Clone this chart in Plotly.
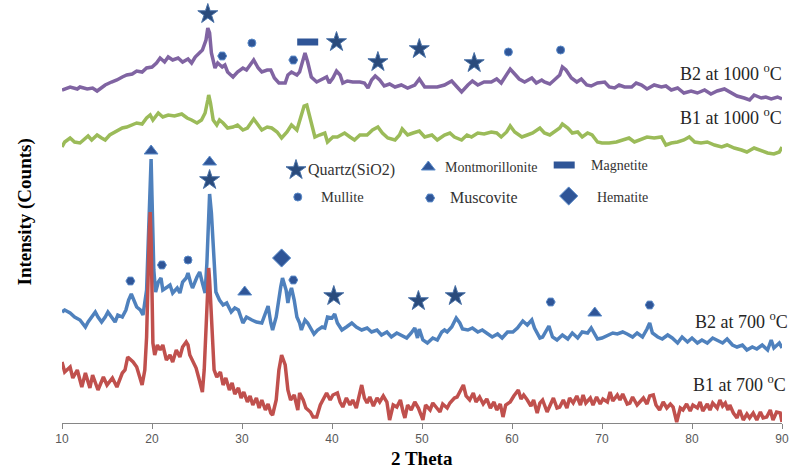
import plotly.graph_objects as go

# ---------------- data (2 Theta, intensity in stacked display units) ----------------
b2_1000_x = [10.0,10.9,11.7,12.0,12.8,13.4,13.9,14.8,15.5,16.1,16.7,17.2,17.8,18.3,18.9,19.4,20.0,20.5,20.9,21.4,
             21.8,22.3,22.9,23.4,24.0,24.4,24.8,25.3,25.6,26.0,26.2,26.4,26.6,27.0,27.3,27.8,28.1,28.4,29.0,29.5,
             30.1,30.5,31.1,31.3,31.8,32.2,32.8,33.2,33.6,34.1,34.8,35.1,35.5,36.1,36.4,36.7,37.0,37.3,37.7,38.3,
             38.9,39.4,39.7,40.1,40.5,40.9,41.2,41.7,42.3,43.1,43.6,44.0,44.4,44.8,45.3,45.8,46.4,47.0,47.7,48.4,
             49.2,49.7,50.3,51.1,51.7,52.5,53.3,53.8,54.4,55.1,55.6,56.2,56.9,57.7,58.3,58.8,59.4,59.8,60.3,60.8,
             61.4,62.2,62.7,63.3,63.6,64.2,64.7,65.3,65.6,66.0,66.6,67.2,67.7,68.3,68.8,69.5,70.3,70.8,71.4,71.9,
             72.5,73.3,73.8,74.4,75.0,75.8,76.6,77.1,77.7,78.4,79.1,79.9,80.6,81.4,82.1,82.8,83.6,84.4,85.0,85.8,
             86.4,86.9,87.7,88.2,88.8,89.5,90.0]
b2_1000_y = [342,345,343,345,343,344,341,347,350,352,355,357,358,361,360,364,365,369,374,370,
             375,372,374,370,373,369,375,379,382,392,404,399,379,364,369,365,367,360,355,360,
             364,362,370,372,364,360,362,362,354,349,349,357,360,357,360,370,379,370,355,350,
             353,355,349,354,361,357,349,351,350,350,349,344,352,356,352,346,348,345,347,344,
             347,353,345,345,345,347,351,346,340,347,351,347,350,350,353,349,357,363,358,353,
             350,354,349,352,350,348,352,357,365,362,354,350,353,347,346,349,350,345,344,347,
             345,345,349,347,343,347,345,346,342,344,339,341,339,342,338,341,343,339,336,334,
             332,337,334,335,333,335,333]

b1_1000_x = [10.0,10.3,10.9,11.4,12.0,12.6,12.9,13.3,13.9,14.4,14.8,15.3,15.9,16.7,17.2,17.8,18.3,18.9,19.4,19.8,
             20.1,20.7,21.2,21.8,22.5,23.3,23.9,24.4,25.0,25.5,25.9,26.2,26.3,26.5,26.8,27.2,27.5,27.9,28.4,29.0,
             29.5,30.1,30.6,31.3,31.8,32.2,32.8,33.3,33.9,34.4,35.0,35.5,36.1,36.6,36.9,37.2,37.7,38.1,38.6,39.2,
             39.5,40.1,40.6,41.4,42.0,42.5,43.1,43.9,44.5,45.1,45.6,46.2,47.0,47.5,47.8,48.4,49.0,49.7,50.3,51.1,
             51.7,52.5,53.1,53.6,54.4,55.0,55.5,56.2,56.9,57.7,58.3,58.8,59.4,59.8,60.3,61.1,61.7,62.3,63.1,63.6,
             64.2,64.7,65.3,65.6,66.2,66.7,67.3,67.8,68.4,68.9,69.5,70.0,70.8,71.6,72.3,73.0,73.6,74.4,75.0,75.8,
             76.6,77.1,77.7,78.4,79.1,79.7,80.3,81.0,81.7,82.5,83.3,83.9,84.7,85.5,86.1,86.9,87.7,88.4,89.1,89.7,
             90.0]
b1_1000_y = [285,290,294,290,289,294,296,292,297,294,292,297,300,304,305,307,309,308,314,317,
             312,319,315,317,316,318,314,312,309,312,319,332,337,329,312,307,312,309,304,305,
             307,302,304,313,307,302,305,304,300,294,300,307,302,317,326,327,309,295,297,299,
             290,295,295,299,295,292,297,297,302,305,299,294,292,297,303,297,299,301,295,297,
             292,297,299,295,292,297,295,299,298,300,299,295,300,306,300,295,297,299,304,299,
             297,300,304,308,304,299,300,295,299,297,290,289,289,290,292,294,290,293,295,294,
             295,287,289,290,292,295,290,289,290,287,285,287,284,282,280,284,281,279,278,280,
             285]

b2_700_x = [10.0,10.3,10.9,11.4,12.0,12.6,12.9,13.3,13.7,14.0,14.4,14.8,15.1,15.5,15.9,16.2,16.7,17.1,17.4,17.7,
            17.9,18.3,18.7,19.0,19.4,19.7,19.9,20.0,20.2,20.4,20.7,21.0,21.2,21.7,22.0,22.3,22.8,23.1,23.4,23.8,
            24.0,24.3,24.5,25.0,25.3,25.6,25.9,26.1,26.3,26.4,26.6,26.9,27.1,27.5,27.9,28.3,28.8,29.2,29.6,30.1,
            30.5,31.1,31.6,32.2,32.5,32.9,33.2,33.4,33.8,34.0,34.3,34.5,34.9,35.1,35.3,35.5,35.8,36.1,36.4,36.6,
            37.0,37.3,37.7,38.0,38.4,38.9,39.2,39.5,40.0,40.3,40.6,41.1,41.6,42.2,42.7,43.3,43.9,44.4,45.0,45.5,
            46.1,46.6,47.2,47.7,48.3,48.8,49.2,49.5,49.7,50.1,50.6,51.2,51.7,52.2,52.5,52.8,53.3,53.8,54.2,54.5,
            55.1,55.6,56.2,56.7,57.3,57.8,58.4,58.9,59.5,60.1,60.6,61.2,61.7,62.2,62.5,63.1,63.4,63.8,64.1,64.5,
            65.0,65.6,66.2,66.7,67.3,67.8,68.4,68.8,69.2,69.5,70.0,70.6,71.2,71.7,72.3,72.8,73.4,73.9,74.5,75.0,
            75.3,75.6,76.2,76.7,77.3,77.8,78.4,78.9,79.5,80.0,80.6,81.1,81.7,82.3,82.8,83.4,83.9,84.5,85.0,85.6,
            86.1,86.7,87.2,87.8,88.4,88.8,89.1,89.7,90.0]
b2_700_y = [120,122,119,115,112,105,110,115,120,115,110,115,120,115,110,117,115,122,132,138,
            134,125,122,117,142,235,273,235,162,140,150,154,142,145,147,139,144,139,150,154,
            159,149,144,155,160,149,139,169,219,238,219,162,140,132,127,129,120,124,122,109,
            115,112,110,109,117,126,109,102,115,129,145,154,142,129,139,144,132,115,109,102,
            112,109,102,98,102,105,104,115,114,118,109,102,105,109,105,102,104,100,102,97,
            100,95,99,97,94,99,104,94,103,92,89,94,92,100,102,100,105,114,109,103,
            102,104,100,102,98,95,98,94,100,100,104,111,107,112,104,94,95,102,106,95,
            92,97,93,99,94,100,99,104,97,93,94,97,99,98,100,98,95,99,95,103,
            109,99,95,93,97,94,89,95,90,94,89,92,89,94,92,89,93,87,85,87,
            82,85,83,87,82,92,84,89,84]

b1_700_x = [10.0,10.3,10.9,11.2,11.7,12.2,12.6,13.1,13.4,14.0,14.6,15.0,15.6,16.1,16.7,17.0,17.3,17.9,18.3,18.7,
            18.9,19.2,19.4,19.7,19.8,19.9,20.0,20.1,20.3,20.6,20.9,21.2,21.6,22.0,22.3,22.7,23.1,23.4,23.8,24.0,
            24.2,24.6,24.9,25.2,25.6,25.8,26.0,26.2,26.3,26.4,26.7,26.9,27.2,27.6,27.9,28.2,28.6,28.9,29.2,29.6,
            29.9,30.2,30.6,30.9,31.2,31.6,31.9,32.2,32.6,32.9,33.2,33.4,33.8,34.1,34.4,34.8,35.1,35.4,35.8,36.2,
            36.4,36.8,37.1,37.6,37.9,38.3,38.7,39.1,39.4,39.8,40.1,40.6,40.9,41.2,41.6,42.0,42.3,42.7,43.0,43.3,
            43.6,43.9,44.2,44.6,45.0,45.3,45.7,46.1,46.4,46.8,47.2,47.6,47.9,48.1,48.4,48.8,49.2,49.6,49.9,50.1,
            50.4,50.9,51.2,51.6,52.0,52.3,52.8,53.1,53.6,53.9,54.2,54.6,54.9,55.3,55.7,56.0,56.4,56.8,57.2,57.6,
            58.0,58.3,58.7,59.0,59.3,59.8,60.2,60.7,61.0,61.3,61.7,62.1,62.4,62.8,63.1,63.4,63.9,64.2,64.6,65.0,
            65.3,65.7,66.1,66.4,66.8,67.2,67.6,67.9,68.2,68.7,69.0,69.4,69.8,70.1,70.6,70.9,71.2,71.7,72.0,72.3,
            72.8,73.1,73.4,73.9,74.2,74.6,75.0,75.3,75.7,76.0,76.4,76.8,77.2,77.6,77.9,78.3,78.7,79.0,79.4,79.8,
            80.1,80.6,80.9,81.2,81.7,82.0,82.3,82.8,83.1,83.4,83.7,84.0,84.2,84.6,85.0,85.3,85.7,86.1,86.4,86.8,
            87.2,87.6,87.9,88.3,88.7,89.0,89.4,89.8,90.0]
b1_700_y = [70,60,65,54,62,45,59,44,57,42,55,47,54,45,59,62,75,70,65,54,
            47,62,95,200,220,192,132,89,77,87,82,87,72,77,70,82,75,85,90,87,
            77,70,64,54,40,62,102,152,164,152,92,62,55,60,47,54,42,49,38,44,
            34,40,30,36,27,34,24,32,22,28,19,17,32,62,77,67,42,32,37,22,
            39,32,24,20,15,15,27,34,39,32,37,39,30,25,34,27,32,24,34,47,
            34,29,35,26,34,30,36,30,12,27,25,32,20,14,27,22,30,24,17,12,
            27,22,29,24,20,28,24,29,34,35,40,47,36,32,39,30,35,28,33,24,
            30,22,28,15,27,30,36,42,33,37,32,26,32,19,29,32,20,27,34,24,
            25,32,24,34,29,36,27,37,29,34,27,35,28,33,30,40,31,37,32,38,
            28,29,35,27,30,34,28,36,37,27,22,30,24,28,25,10,24,22,28,21,
            27,24,30,21,28,22,29,24,32,26,29,22,27,19,14,22,12,18,14,19,
            12,20,14,15,22,12,20,19,10]

# phase identification marks (2 Theta, display height)
quartz_x = [26.2, 40.5, 45.1, 49.7, 55.8, 26.4, 40.2, 49.6, 53.7]
quartz_y = [418, 390, 370, 383, 369, 252, 136, 131, 136]
montmor_x = [19.9, 26.4, 30.3, 69.2]
montmor_y = [281, 270, 140, 119]
mullite_x = [31.1, 59.6, 65.4, 24.0]
mullite_y = [389, 380, 382, 172]
muscov_x = [27.8, 35.7, 17.6, 21.1, 35.7, 64.3, 75.3]
muscov_y = [376, 372, 151, 167, 152, 130, 127]
magnet_x = [37.3]
magnet_y = [390]
hemat_x = [34.4]
hemat_y = [174]

series_names = ["B2 at 1000 <sup>o</sup>C", "B1 at 1000 <sup>o</sup>C",
                "B2 at 700 <sup>o</sup>C", "B1 at 700 <sup>o</sup>C"]
phase_names = ["Quartz(SiO2)", "Montmorillonite", "Magnetite", "Mullite", "Muscovite", "Hematite"]
x_ticks = [10, 20, 30, 40, 50, 60, 70, 80, 90]

# ---------------- figure ----------------
SERIF = "Liberation Serif, Times New Roman, serif"
MK = "#2F5597"
MK_EDGE = "#5B8BC9"
Y0, Y1 = 9, 432

fig = go.Figure()
line_specs = [(b2_1000_x, b2_1000_y, "#8064A2"), (b1_1000_x, b1_1000_y, "#9BBB59"),
              (b2_700_x, b2_700_y, "#4F81BD"), (b1_700_x, b1_700_y, "#C0504D")]
for xs, ys, col in line_specs:
    fig.add_trace(go.Scatter(x=xs, y=ys, mode="lines", line=dict(color=col, width=3.5),
                             showlegend=False, hoverinfo="skip"))

def marks(xs, ys, symbol, size, color=MK, edge=MK_EDGE, lw=1):
    fig.add_trace(go.Scatter(x=xs, y=ys, mode="markers", showlegend=False, hoverinfo="skip",
                             marker=dict(symbol=symbol, size=size, color=color,
                                         line=dict(color=edge, width=lw))))

marks(quartz_x, quartz_y, "star", 15, color="#2A4B7C", edge="#4A72A8")
marks(montmor_x, montmor_y, "triangle-up", 12)
marks(mullite_x, mullite_y, "circle", 8)
marks(muscov_x, muscov_y, "hexagon2", 9)
marks(magnet_x, magnet_y, "line-ew", 15, color=MK, edge=MK, lw=7)
marks(hemat_x, hemat_y, "diamond", 14)

# in-plot key (symbols + labels)
key_sym_x = [36.0, 50.7, 65.8, 36.2, 50.9, 66.3]
key_sym_y = [262, 265, 267, 235, 234, 236]
key_txt_x = [37.1, 52.3, 68.6, 38.6, 52.9, 69.2]
key_txt_y = [262, 265, 267, 235, 235, 235]
key_syms = ["star", "triangle-up", "line-ew", "circle", "hexagon2", "diamond"]
key_sizes = [15, 12, 15, 8, 9, 14]
key_fsize = [16, 14, 14, 14.5, 16, 14]
for i in range(6):
    if key_syms[i] == "line-ew":
        marks([key_sym_x[i]], [key_sym_y[i]], "line-ew", key_sizes[i], color=MK, edge=MK, lw=7)
    elif key_syms[i] == "star":
        marks([key_sym_x[i]], [key_sym_y[i]], "star", key_sizes[i], color="#2A4B7C", edge="#4A72A8")
    else:
        marks([key_sym_x[i]], [key_sym_y[i]], key_syms[i], key_sizes[i])
    fig.add_annotation(x=key_txt_x[i], y=key_txt_y[i], xref="x", yref="y", text=phase_names[i],
                       showarrow=False, xanchor="left", yanchor="middle",
                       font=dict(family=SERIF, size=key_fsize[i], color="#333333"))

# series labels (paper coords so they may sit at the right edge)
lab_px = [1.003, 1.003, 1.011, 1.008]
lab_v = [360, 315, 112, 49]
for i in range(4):
    fig.add_annotation(x=lab_px[i], y=(lab_v[i] - Y0) / (Y1 - Y0), xref="paper", yref="paper",
                       text=series_names[i], showarrow=False, xanchor="right", yanchor="middle",
                       font=dict(family=SERIF, size=18, color="#262626"))

# axis titles
fig.add_annotation(x=-0.0514, y=0.5, xref="paper", yref="paper", text="<b>Intensity (Counts)</b>",
                   textangle=-90, showarrow=False, xanchor="center", yanchor="middle",
                   font=dict(family=SERIF, size=19, color="#000000"))
fig.add_annotation(x=0.5, y=-0.083, xref="paper", yref="paper", text="<b>2 Theta</b>",
                   showarrow=False, xanchor="center", yanchor="middle",
                   font=dict(family=SERIF, size=19, color="#000000"))

fig.update_layout(
    width=794, height=470,
    margin=dict(l=62, r=12, t=0, b=47),
    paper_bgcolor="white", plot_bgcolor="white",
    xaxis=dict(range=[10, 90], tickvals=x_ticks, ticktext=[str(t) for t in x_ticks],
               ticks="outside", ticklen=5, tickcolor="#868686", showline=True,
               linecolor="#868686", linewidth=1, showgrid=False, zeroline=False,
               tickfont=dict(family="Liberation Sans Narrow, Arial Narrow, Liberation Sans", size=12,
                             color="#595959")),
    yaxis=dict(range=[Y0, Y1], visible=False),
)

fig.write_html("out.html", config={"displayModeBar": False, "staticPlot": True},
               post_script="document.body.style.margin='0';document.body.style.overflow='hidden';")
